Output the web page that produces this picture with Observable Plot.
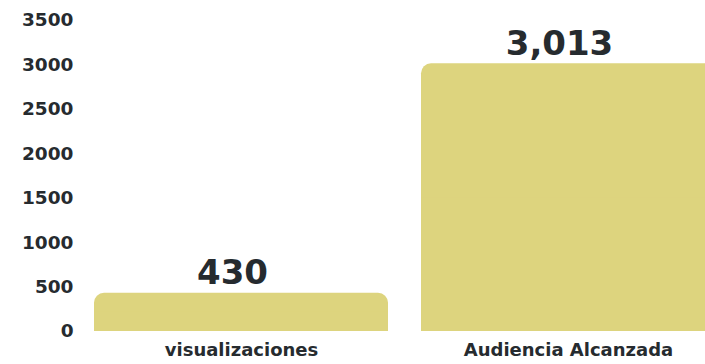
<!DOCTYPE html>
<html>
<head>
<meta charset="utf-8">
<script src="https://cdn.jsdelivr.net/npm/d3@7"></script>
<script src="https://cdn.jsdelivr.net/npm/@observablehq/plot@0.6"></script>
<style>
  html, body { margin: 0; padding: 0; background: #fff; overflow: hidden; }
  #chart svg { overflow: hidden; }
</style>
</head>
<body>
<div id="chart"></div>
<script>
const categories = ["visualizaciones", "Audiencia Alcanzada"];
const values = [430, 3013];
const valueLabels = ["430", "3,013"];
const yTicks = [0, 500, 1000, 1500, 2000, 2500, 3000, 3500];

const data = categories.map((c, i) => ({category: c, value: values[i], label: valueLabels[i]}));

const barColor = "#ddd47e";
const textColor = "#262b2f";
const font = "'DejaVu Sans', sans-serif";

const plot = Plot.plot({
  width: 705,
  height: 364,
  marginLeft: 80,
  marginRight: 0,
  marginTop: 20,
  marginBottom: 33,
  style: {fontFamily: font, background: "#fff", overflow: "hidden"},
  x: {domain: categories, range: [61, 748], padding: 0.1, label: null},
  y: {domain: [0, 3500], label: null},
  marks: [
    Plot.barY(data, {x: "category", y: "value", fill: barColor, rx: 10}),
    Plot.barY(data, {x: "category", y1: 0, y2: d => d.value / 2, fill: barColor}),
    Plot.text(data, {x: "category", y: "value", text: "label", lineAnchor: "bottom", dy: -9, dx: -9,
      fontSize: 34, fontWeight: "bold", fill: textColor}),
    Plot.axisY({ticks: yTicks, tickSize: 0, tickPadding: 7, tickFormat: d => String(d),
      fontSize: 18.5, fontWeight: "bold", fill: textColor, label: null}),
    Plot.axisX({tickSize: 0, tickPadding: 12, fontSize: 18, fontWeight: "bold", fill: textColor, label: null})
  ]
});
document.getElementById("chart").appendChild(plot);
</script>
</body>
</html>
